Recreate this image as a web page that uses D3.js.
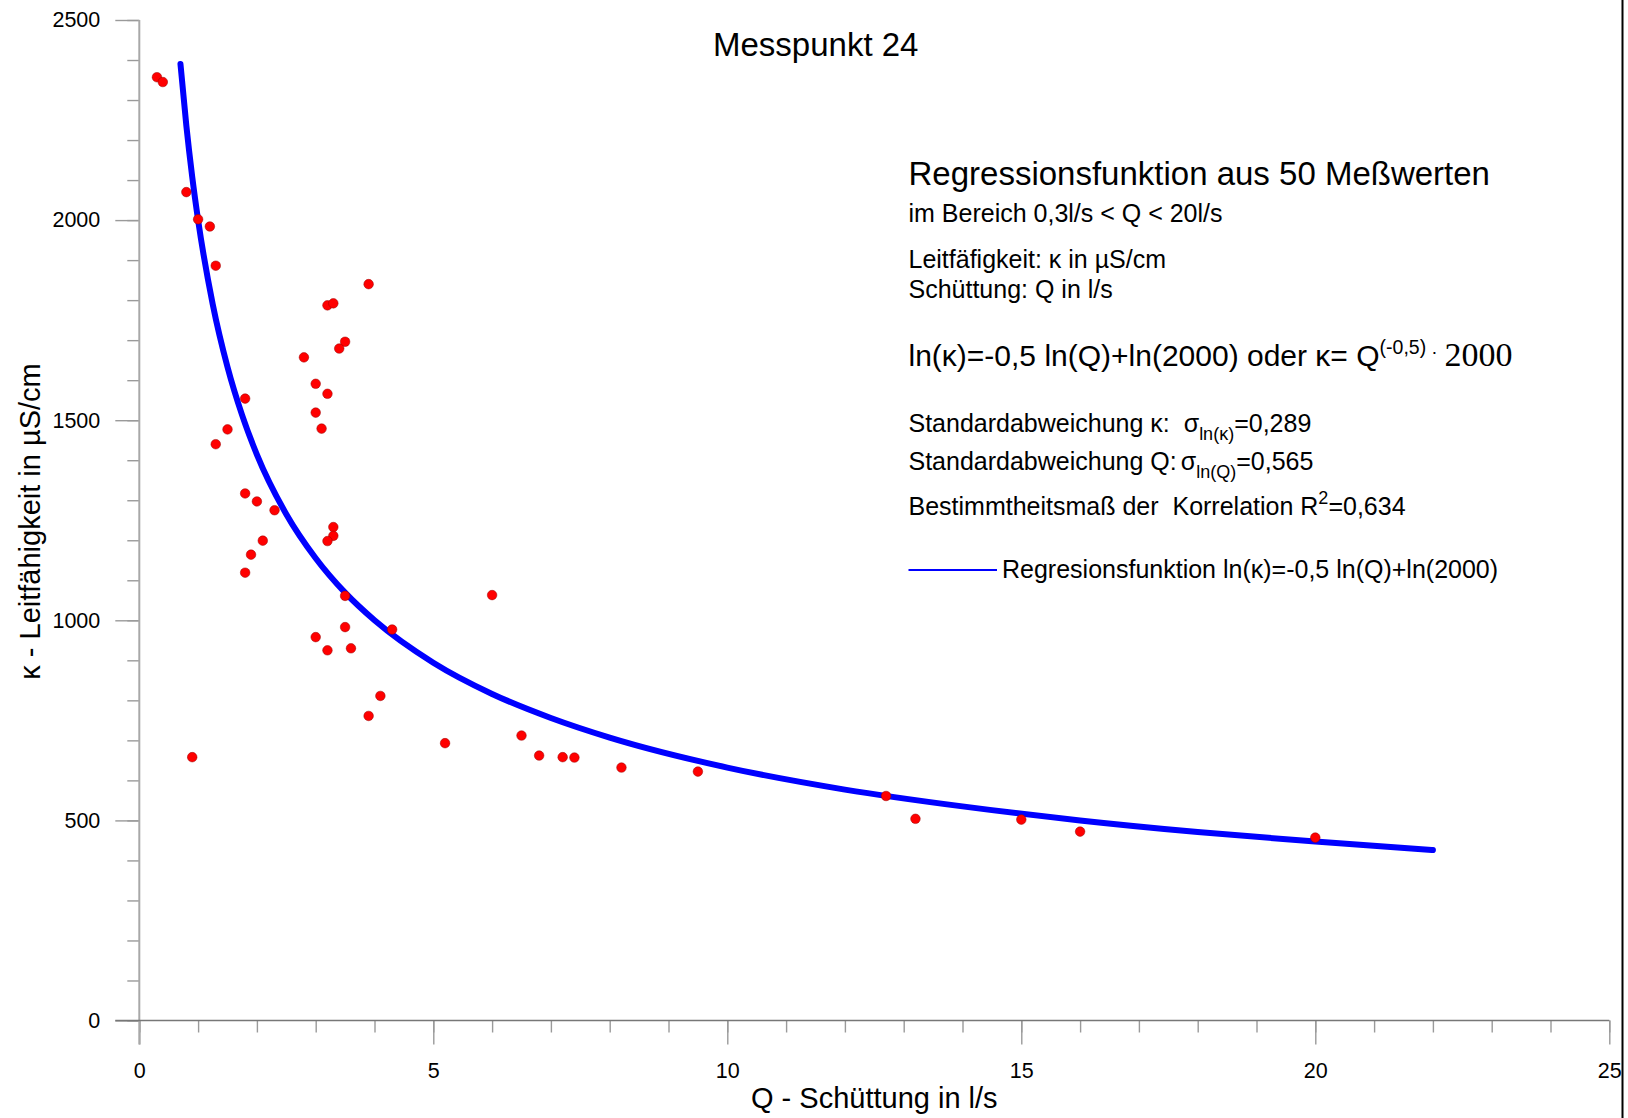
<!DOCTYPE html>
<html><head><meta charset="utf-8">
<script src="https://cdn.jsdelivr.net/npm/d3@7"></script>
<style>
body{margin:0;background:#fff}
svg{display:block}
text{font-family:"Liberation Sans",Arial,Helvetica,sans-serif;fill:#000;white-space:pre}
</style>
</head><body>
<svg id="chart" width="1628" height="1118"></svg>
<script>
// ---- data ----
const qValues = [0.3,0.4,0.8,1.0,1.2,1.3,3.9,3.2,3.3,3.5,3.4,2.8,3.0,3.2,1.8,3.0,3.1,1.5,1.3,1.8,
  2.0,2.3,3.3,3.3,3.2,2.1,1.9,1.8,3.5,3.5,4.3,3.0,3.2,3.6,4.1,3.9,0.9,6.0,5.2,6.5,
  6.8,7.2,7.4,8.2,9.5,12.7,13.2,15.0,16.0,20.0];
const kappaValues = [2357,2345,2070,2002,1984,1886,1840,1787,1792,1696,1679,1657,1591,1566,1554,1519,1479,1477,1440,1317,
  1297,1275,1233,1211,1198,1199,1164,1119,1061,983,977,958,925,930,811,761,658,1063,693,712,
  662,658,657,632,622,561,504,502,472,457];
// regression curve values
const curveQ = [0.7,0.8,0.9,1.0,1.25,1.5,1.75,2,2.5,3,3.5,4,5,6,7,8,10,12,14,16,18,20,22];
const curveKappa = [2390,2236,2108,2000,1789,1633,1512,1414,1265,1155,1069,1000,894,816,756,707,632,577,535,500,471,447,426];
const xMajorTicks = [0,5,10,15,20,25];
const yMajorTicks = [0,500,1000,1500,2000,2500];
const xMinorTicks = d3.range(0,26,1);
const yMinorTicks = d3.range(0,2501,100);

const svg = d3.select("#chart");
const x = d3.scaleLinear().domain([0,25]).range([139.3,1609.3]);
const y = d3.scaleLinear().domain([0,2500]).range([1020.5,20]);

const tickColor = "#9a9a9a";

// minor ticks
const gyMinor = svg.append("g").attr("transform",`translate(${x(0)},0)`)
  .call(d3.axisLeft(y).tickValues(yMinorTicks).tickSize(12).tickFormat(""));
const gxMinor = svg.append("g").attr("transform",`translate(0,${y(0)})`)
  .call(d3.axisBottom(x).tickValues(xMinorTicks).tickSize(12).tickFormat(""));
// major ticks
const gy = svg.append("g").attr("transform",`translate(${x(0)},0)`)
  .call(d3.axisLeft(y).tickValues(yMajorTicks).tickSize(24).tickPadding(15).tickFormat(d3.format("d")));
const gx = svg.append("g").attr("transform",`translate(0,${y(0)})`)
  .call(d3.axisBottom(x).tickValues(xMajorTicks).tickSize(24).tickPadding(18).tickFormat(d3.format("d")));

[gyMinor,gxMinor,gy,gx].forEach(g=>{
  g.select(".domain").remove();
  g.selectAll(".tick line").attr("stroke",tickColor).attr("stroke-width",1.4);
  g.selectAll(".tick text").attr("font-size",21.5).attr("fill","#111")
    .attr("font-family","'Liberation Sans',Arial,sans-serif");
});

// axis lines
svg.append("line").attr("x1",x(0)).attr("x2",x(0)).attr("y1",y(2500)).attr("y2",y(0)+24)
  .attr("stroke","#a8a8a8").attr("stroke-width",2);
svg.append("line").attr("x1",x(0)-24).attr("x2",x(25)).attr("y1",y(0)).attr("y2",y(0))
  .attr("stroke","#777").attr("stroke-width",1.4);

// right frame edge
svg.append("line").attr("x1",1622.5).attr("x2",1622.5).attr("y1",0).attr("y2",1118)
  .attr("stroke","#000").attr("stroke-width",2);

// regression curve
const curveData = curveQ.map((q,i)=>({q,k:curveKappa[i]}));
svg.append("path").datum(curveData)
  .attr("d",d3.line().x(d=>x(d.q)).y(d=>y(d.k)).curve(d3.curveMonotoneX))
  .attr("fill","none").attr("stroke","#0000ff").attr("stroke-width",6)
  .attr("stroke-linecap","round");

// points
const pts = qValues.map((q,i)=>({q,k:kappaValues[i]}));
svg.append("g").selectAll("circle").data(pts).join("circle")
  .attr("cx",d=>x(d.q)).attr("cy",d=>y(d.k)).attr("r",4.8)
  .attr("fill","#ff0000").attr("stroke","#990000").attr("stroke-width",0.5);

// titles
svg.append("text").attr("x",713).attr("y",56).attr("font-size",33).text("Messpunkt 24");
svg.append("text").attr("x",x(12.5)).attr("y",1108).attr("text-anchor","middle")
  .attr("font-size",29).text("Q - Schüttung in l/s");
svg.append("text").attr("transform","translate(39.5,521.5) rotate(-90)")
  .attr("text-anchor","middle").attr("font-size",29).text("κ - Leitfähigkeit in µS/cm");

// annotation block
const bx = 908.5;
svg.append("text").attr("x",bx).attr("y",185).attr("font-size",33)
  .text("Regressionsfunktion aus 50 Meßwerten");
svg.append("text").attr("x",bx).attr("y",222).attr("font-size",25)
  .text("im Bereich 0,3l/s < Q < 20l/s");
svg.append("text").attr("x",bx).attr("y",268).attr("font-size",25)
  .text("Leitfäfigkeit: κ in µS/cm");
svg.append("text").attr("x",bx).attr("y",298).attr("font-size",25)
  .text("Schüttung: Q in l/s");

const eq = svg.append("text").attr("x",bx).attr("y",365.5).attr("font-size",30);
eq.append("tspan").text("ln(κ)=-0,5 ln(Q)+ln(2000) oder κ= Q");
eq.append("tspan").attr("font-size",19.5).attr("dy",-12).text("(-0,5)");
eq.append("tspan").attr("dy",4).attr("dx",5).attr("font-size",19).text("·");
eq.append("tspan").attr("dy",8).attr("dx",7).attr("font-family","'Liberation Serif','Times New Roman',serif")
  .attr("font-size",34).text("2000");

const s1 = svg.append("text").attr("x",bx).attr("y",432).attr("font-size",25);
s1.append("tspan").text("Standardabweichung κ:  σ");
s1.append("tspan").attr("font-size",18).attr("dy",8).text("ln(κ)");
s1.append("tspan").attr("dy",-8).text("=0,289");

const s2 = svg.append("text").attr("x",bx).attr("y",470).attr("font-size",25);
s2.append("tspan").text("Standardabweichung Q:");
s2.append("tspan").attr("dx",4).text("σ");
s2.append("tspan").attr("font-size",18).attr("dy",8).text("ln(Q)");
s2.append("tspan").attr("dy",-8).text("=0,565");

const s3 = svg.append("text").attr("x",bx).attr("y",515).attr("font-size",25);
s3.append("tspan").text("Bestimmtheitsmaß der  Korrelation R");
s3.append("tspan").attr("font-size",18).attr("dy",-11).text("2");
s3.append("tspan").attr("dy",11).text("=0,634");

// legend
svg.append("line").attr("x1",bx).attr("x2",997).attr("y1",570).attr("y2",570)
  .attr("stroke","#0000ff").attr("stroke-width",2);
svg.append("text").attr("x",1002).attr("y",578).attr("font-size",25)
  .text("Regresionsfunktion ln(κ)=-0,5 ln(Q)+ln(2000)");
</script>
</body></html>
